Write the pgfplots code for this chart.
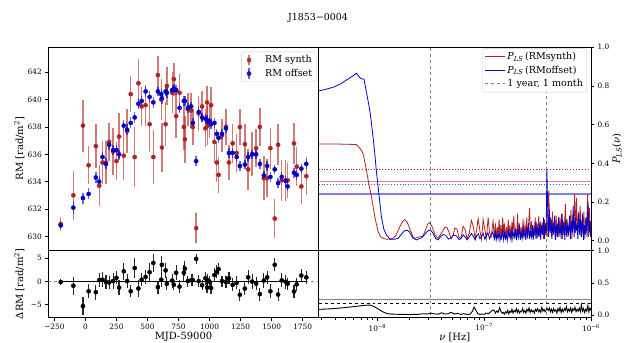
\documentclass[border=0pt]{standalone}
\usepackage{fontspec}
\setmainfont{DejaVu Serif}
\usepackage{pgfplots}
\usepackage{pgfplotstable}
\pgfplotsset{compat=1.18}
\definecolor{fb}{RGB}{178,34,34}
\definecolor{mb}{RGB}{0,0,205}

\pgfplotstableread{
x r er b eb d ed
-199 630.9 0.5 630.8 0.3 -0.1 0.6
-97 633.0 1.8 632.1 0.5 -0.9 1.9
-20 638.1 1.9 632.8 0.4 -5.3 1.9
26 635.2 1.4 633.1 0.4 -2.1 1.5
84 636.6 1.6 634.3 0.4 -2.3 1.6
111 633.7 1.5 634.0 0.4 0.3 1.5
138 635.4 1.6 635.8 0.4 0.4 1.6
165 635.4 1.6 635.3 0.4 -0.1 1.6
191 636.9 1.4 636.7 0.35 -0.2 1.4
223 636.2 1.7 636.3 0.35 0.1 1.7
250 635.5 1.4 636.3 0.35 0.8 1.4
271 637.3 1.7 636.0 0.35 -1.3 1.7
309 635.9 1.8 638.1 0.4 2.2 1.8
336 637.7 1.6 637.8 0.4 0.1 1.6
365 640.4 1.3 638.3 0.4 -2.1 1.3
397 635.8 2.2 638.7 0.4 2.9 2.2
427 641.2 1.8 639.7 0.4 -1.5 1.8
453 639.5 1.4 639.9 0.4 0.4 1.4
485 639.6 1.5 640.6 0.4 1.0 1.5
517 638.2 2.0 640.2 0.4 2.0 2.0
547 635.8 2.0 639.8 0.4 4.0 2.0
584 641.8 1.4 640.6 0.35 -1.2 1.4
611 640.0 1.5 640.4 0.4 0.4 1.5
616 636.5 1.8 640.1 0.4 3.6 1.8
646 638.2 1.6 640.6 0.35 2.4 1.6
656 641.0 1.4 640.5 0.35 -0.5 1.4
699 640.5 1.5 640.7 0.35 0.2 1.5
712 641.5 1.2 640.8 0.35 -0.7 1.2
731 638.8 1.6 640.7 0.35 1.9 1.6
758 640.5 1.4 639.4 0.35 -1.1 1.4
793 638.0 1.7 639.9 0.35 1.9 1.7
801 637.1 1.7 639.9 0.35 2.8 1.7
825 639.3 1.2 639.4 0.35 0.1 1.2
852 639.2 1.3 639.5 0.35 0.3 1.3
865 638.0 1.3 638.3 0.35 0.3 1.3
892 630.6 1.1 635.5 0.35 4.9 1.1
913 639.0 1.3 639.1 0.35 0.1 1.3
940 639.5 1.1 638.7 0.35 -0.8 1.1
966 637.9 1.4 638.6 0.35 0.7 1.4
980 639.8 1.2 638.5 0.35 -1.3 1.2
985 638.1 1.4 638.4 0.35 0.3 1.4
999 638.4 1.2 638.4 0.35 0.0 1.2
1012 639.6 1.3 638.2 0.35 -1.4 1.3
1039 636.9 1.5 638.3 0.35 1.4 1.5
1058 635.4 1.4 637.5 0.35 2.1 1.4
1073 634.5 1.3 637.2 0.35 2.7 1.3
1100 637.4 1.2 637.5 0.35 0.1 1.2
1132 638.0 1.3 637.9 0.35 -0.1 1.3
1156 635.4 1.3 636.1 0.35 0.7 1.3
1186 636.8 1.4 636.1 0.35 -0.7 1.4
1218 636.1 1.4 635.8 0.35 -0.3 1.4
1244 638.0 1.3 635.15 0.35 -2.85 1.3
1284 636.75 1.5 635.25 0.35 -1.5 1.5
1311 634.9 1.5 635.8 0.35 0.9 1.5
1343 636.0 1.6 636.0 0.35 0.0 1.6
1375 636.45 1.4 636.0 0.35 -0.45 1.4
1405 638.0 1.4 635.3 0.35 -2.7 1.4
1437 634.25 1.6 634.45 0.35 0.2 1.6
1464 634.25 1.4 635.15 0.35 0.9 1.4
1490 636.45 1.5 634.35 0.35 -2.1 1.5
1525 631.3 1.4 634.9 0.35 3.6 1.4
1552 636.7 1.5 633.9 0.35 -2.8 1.5
1581 634.1 1.5 634.35 0.35 0.25 1.5
1613 634.1 1.5 634.05 0.35 -0.05 1.5
1629 634.1 1.3 633.65 0.35 -0.45 1.3
1680 636.8 1.5 634.65 0.35 -2.15 1.5
1702 635.1 1.4 634.5 0.35 -0.6 1.4
1739 633.65 1.3 634.95 0.35 1.3 1.3
1779 634.4 1.4 635.3 0.35 0.9 1.4
}\rmdata

% periodogram, x = log10(frequency / Hz)
\pgfplotstableread{
L p
-8.55 0.500
-8.40 0.500
-8.30 0.499
-8.197 0.497
-8.16 0.475
-8.135 0.452
-8.103 0.366
-8.08 0.29
-8.056 0.228
-8.025 0.124
-7.994 0.047
-7.97 0.02
-7.947 0.012
-7.915 0.008
-7.885 0.007
-7.855 0.012
-7.829 0.025
-7.80 0.06
-7.77 0.095
-7.745 0.11
-7.72 0.095
-7.69 0.05
-7.665 0.02
-7.65 0.012
-7.625 0.018
-7.604 0.02
-7.573 0.025
-7.55 0.055
-7.53 0.085
-7.51 0.093
-7.49 0.075
-7.46 0.03
-7.432 0.012
-7.40 0.04
-7.37 0.068
-7.35 0.07
-7.33 0.045
-7.31 0.01
-7.29 0.03
-7.275 0.065
-7.255 0.06
-7.235 0.015
-7.215 0.02
-7.198 0.075
-7.18 0.06
-7.16 0.01
-7.14 0.04
-7.12 0.105
-7.10 0.07
-7.085 0.008
-7.07 0.06
-7.057 0.115
-7.04 0.05
-7.025 0.005
-7.01 0.11
-6.995 0.06
-6.98 0.01
-6.963 0.12
-6.95 0.04
-6.935 0.02
-6.917 0.10
-6.905 0.02
-6.895 0.09
-6.887 0.01
-6.878 0.07
-6.870 0.02
-6.861 0.11
-6.852 0.03
-6.844 0.08
-6.836 0.005
-6.827 0.12
-6.818 0.04
-6.810 0.09
-6.801 0.01
-6.792 0.07
-6.784 0.03
-6.775 0.11
-6.766 0.02
-6.758 0.08
-6.749 0.005
-6.740 0.10
-6.732 0.04
-6.723 0.13
-6.714 0.01
-6.706 0.06
-6.697 0.02
-6.688 0.14
-6.680 0.03
-6.671 0.09
-6.662 0.01
-6.654 0.07
-6.645 0.03
-6.636 0.11
-6.628 0.02
-6.619 0.08
-6.610 0.04
-6.601 0.12
-6.593 0.01
-6.584 0.09
-6.575 0.17
-6.567 0.03
-6.558 0.10
-6.549 0.02
-6.541 0.07
-6.532 0.04
-6.523 0.12
-6.515 0.01
-6.506 0.09
-6.497 0.03
-6.489 0.13
-6.480 0.02
-6.471 0.10
-6.463 0.05
-6.454 0.08
-6.445 0.01
-6.437 0.11
-6.428 0.03
-6.420 0.09
-6.411 0.02
-6.403 0.14
-6.395 0.26
-6.387 0.05
-6.378 0.12
-6.370 0.02
-6.361 0.15
-6.352 0.04
-6.344 0.10
-6.335 0.01
-6.327 0.13
-6.318 0.05
-6.309 0.09
-6.301 0.02
-6.292 0.12
-6.283 0.04
-6.275 0.14
-6.266 0.01
-6.257 0.10
-6.249 0.06
-6.240 0.19
-6.231 0.03
-6.223 0.11
-6.214 0.02
-6.205 0.09
-6.197 0.05
-6.188 0.16
-6.179 0.01
-6.171 0.12
-6.162 0.06
-6.153 0.24
-6.145 0.04
-6.136 0.22
-6.127 0.03
-6.119 0.13
-6.110 0.07
-6.101 0.18
-6.093 0.02
-6.084 0.10
-6.075 0.04
-6.067 0.15
-6.058 0.01
-6.049 0.12
-6.041 0.05
-6.032 0.24
-6.023 0.02
-6.015 0.17
-6.006 0.03
-6.000 0.10
}\plsred

\pgfplotstableread{
L p
-8.55 0.774
-8.47 0.785
-8.40 0.796
-8.34 0.812
-8.29 0.831
-8.24 0.848
-8.197 0.866
-8.16 0.84
-8.126 0.834
-8.10 0.76
-8.08 0.70
-8.063 0.641
-8.04 0.53
-8.025 0.452
-8.01 0.36
-7.994 0.28
-7.963 0.124
-7.94 0.06
-7.916 0.03
-7.89 0.012
-7.869 0.007
-7.84 0.008
-7.807 0.012
-7.78 0.03
-7.75 0.05
-7.723 0.055
-7.70 0.045
-7.67 0.015
-7.635 0.004
-7.61 0.01
-7.588 0.015
-7.56 0.03
-7.53 0.05
-7.503 0.055
-7.48 0.04
-7.455 0.012
-7.432 0.004
-7.41 0.02
-7.385 0.032
-7.36 0.028
-7.335 0.008
-7.31 0.015
-7.285 0.03
-7.26 0.025
-7.235 0.005
-7.215 0.012
-7.197 0.03
-7.18 0.02
-7.16 0.004
-7.14 0.02
-7.119 0.038
-7.10 0.02
-7.085 0.005
-7.07 0.025
-7.055 0.035
-7.04 0.01
-7.025 0.02
-7.01 0.038
-6.995 0.008
-6.98 0.025
-6.965 0.04
-6.95 0.01
-6.935 0.03
-6.92 0.045
-6.905 0.008
-6.895 0.04
-6.887 0.005
-6.878 0.03
-6.870 0.01
-6.861 0.05
-6.852 0.002
-6.844 0.03
-6.836 0.015
-6.827 0.06
-6.818 0.005
-6.810 0.04
-6.801 0.01
-6.792 0.03
-6.784 0.002
-6.775 0.05
-6.766 0.02
-6.758 0.04
-6.749 0.005
-6.740 0.07
-6.732 0.01
-6.723 0.04
-6.714 0.02
-6.706 0.06
-6.697 0.003
-6.688 0.05
-6.680 0.02
-6.671 0.08
-6.662 0.005
-6.654 0.04
-6.645 0.01
-6.636 0.06
-6.628 0.02
-6.619 0.05
-6.610 0.003
-6.601 0.07
-6.593 0.02
-6.584 0.09
-6.575 0.01
-6.567 0.05
-6.558 0.02
-6.549 0.08
-6.541 0.005
-6.532 0.06
-6.523 0.03
-6.515 0.10
-6.506 0.01
-6.497 0.07
-6.489 0.02
-6.480 0.09
-6.471 0.005
-6.463 0.08
-6.454 0.03
-6.445 0.12
-6.437 0.01
-6.428 0.09
-6.420 0.04
-6.413 0.365
-6.405 0.15
-6.397 0.02
-6.390 0.16
-6.382 0.04
-6.374 0.11
-6.366 0.01
-6.357 0.09
-6.349 0.03
-6.340 0.13
-6.331 0.005
-6.323 0.08
-6.314 0.02
-6.305 0.12
-6.297 0.04
-6.288 0.07
-6.279 0.01
-6.271 0.14
-6.262 0.03
-6.253 0.09
-6.245 0.005
-6.236 0.11
-6.227 0.02
-6.219 0.08
-6.210 0.03
-6.201 0.13
-6.193 0.01
-6.184 0.10
-6.175 0.04
-6.167 0.18
-6.158 0.02
-6.149 0.12
-6.141 0.05
-6.132 0.09
-6.123 0.01
-6.115 0.15
-6.106 0.03
-6.097 0.11
-6.089 0.02
-6.080 0.14
-6.071 0.005
-6.063 0.08
-6.054 0.03
-6.045 0.12
-6.037 0.02
-6.028 0.20
-6.019 0.04
-6.011 0.10
-6.003 0.02
}\plsblue

\pgfplotstableread{
L p
-8.55 0.088
-8.45 0.095
-8.35 0.108
-8.25 0.125
-8.15 0.145
-8.10 0.152
-8.07 0.155
-8.03 0.13
-7.99 0.09
-7.95 0.05
-7.916 0.026
-7.88 0.015
-7.80 0.01
-7.70 0.008
-7.62 0.01
-7.57 0.02
-7.53 0.015
-7.50 0.03
-7.47 0.018
-7.43 0.012
-7.40 0.035
-7.37 0.015
-7.34 0.02
-7.31 0.04
-7.28 0.015
-7.25 0.025
-7.22 0.01
-7.19 0.02
-7.16 0.008
-7.13 0.015
-7.11 0.06
-7.095 0.125
-7.08 0.08
-7.06 0.02
-7.04 0.008
-7.02 0.015
-7.00 0.01
-6.98 0.03
-6.96 0.02
-6.94 0.05
-6.925 0.07
-6.91 0.08
-6.895 0.03
-6.88 0.065
-6.87 0.04
-6.855 0.115
-6.845 0.06
-6.83 0.025
-6.82 0.04
-6.81 0.015
-6.80 0.05
-6.79 0.03
-6.78 0.07
-6.77 0.02
-6.76 0.06
-6.75 0.04
-6.74 0.09
-6.73 0.03
-6.72 0.07
-6.71 0.05
-6.70 0.10
-6.69 0.04
-6.68 0.08
-6.67 0.03
-6.66 0.06
-6.65 0.05
-6.64 0.10
-6.63 0.04
-6.62 0.07
-6.61 0.03
-6.60 0.09
-6.59 0.06
-6.58 0.11
-6.57 0.04
-6.56 0.08
-6.55 0.05
-6.54 0.07
-6.53 0.03
-6.52 0.09
-6.51 0.06
-6.50 0.10
-6.49 0.05
-6.48 0.08
-6.47 0.04
-6.46 0.12
-6.45 0.06
-6.44 0.09
-6.43 0.05
-6.42 0.08
-6.41 0.10
-6.40 0.07
-6.39 0.11
-6.38 0.05
-6.37 0.09
-6.36 0.04
-6.35 0.10
-6.34 0.06
-6.33 0.08
-6.32 0.03
-6.31 0.10
-6.30 0.06
-6.29 0.12
-6.28 0.04
-6.27 0.09
-6.26 0.05
-6.25 0.10
-6.24 0.07
-6.23 0.13
-6.22 0.05
-6.21 0.09
-6.20 0.06
-6.19 0.11
-6.18 0.04
-6.17 0.10
-6.16 0.07
-6.15 0.12
-6.14 0.05
-6.13 0.09
-6.12 0.06
-6.11 0.11
-6.10 0.05
-6.09 0.16
-6.08 0.06
-6.07 0.10
-6.06 0.04
-6.05 0.09
-6.04 0.06
-6.03 0.15
-6.02 0.05
-6.01 0.11
-6.00 0.07
}\plsdiff

\pgfplotsset{
  base/.style={
    scale only axis,
    tick align=outside,
    major tick length=3bp,
    minor tick length=1.8bp,
    every tick/.style={black, line width=0.6bp},
    axis line style={line width=0.7bp},
    tick label style={font=\fontsize{7.4}{8.5}\selectfont},
    label style={font=\fontsize{9.8}{11}\selectfont},
    /pgf/number format/assume math mode=true,
    clip=true,
  },
  leftlabel/.style={every axis y label/.style={at={(axis description cs:0,0.5)}, xshift=-29bp, rotate=90, anchor=center}},
  rightlabel/.style={every axis y label/.style={at={(axis description cs:1,0.5)}, xshift=26bp, rotate=90, anchor=center}},
  botlabel/.style={every axis x label/.style={at={(axis description cs:0.5,0)}, yshift=-19.5bp, anchor=center}},
  lgd/.style={legend style={font=\fontsize{9.6}{11}\selectfont, draw=black!20, rounded corners=2bp,
    fill=white, fill opacity=0.8, text opacity=1, inner sep=1.8bp, row sep=0.8bp,
    at={(1,1)}, anchor=north east}, legend cell align=left},
}

\begin{document}
\begin{tikzpicture}
\useasboundingbox (0,0) rectangle (635bp,343bp);

\node[font=\fontsize{9.5}{11}\selectfont] at (318bp,325bp) {J1853−0004};

% ---------- left top ----------
\begin{axis}[base, leftlabel, lgd,
  at={(48.3bp,93bp)}, anchor=south west, width=270.4bp, height=202.7bp,
  xmin=-299, xmax=1879, ymin=629.0, ymax=643.83,
  xtick=\empty, ytick={630,632,...,642}, ytick pos=left,
  ylabel={RM [rad/m\textsuperscript{2}]},
  legend style={xshift=-2.5bp, yshift=-4.4bp}]
\addplot[only marks, mark=*, mark size=2.1bp, color=fb,
  legend image code/.code={\path[draw=none, fill=none] (0cm,0cm) rectangle (0.7cm,0.01cm); \draw[fb, opacity=0.6, line width=1.4bp] (0.2cm,-0.19cm) -- (0.2cm,0.19cm); \fill[fb] (0.2cm,0cm) circle (2.1bp);},
  error bars/.cd, y dir=both, y explicit, error mark=none,
  error bar style={line width=1.4bp, color=fb, opacity=0.6}]
  table[x=x, y=r, y error=er] {\rmdata};
\addlegendentry{RM synth}
\addplot[only marks, mark=*, mark size=2.1bp, color=mb,
  legend image code/.code={\path[draw=none, fill=none] (0cm,0cm) rectangle (0.7cm,0.01cm); \draw[mb, opacity=0.6, line width=1.4bp] (0.2cm,-0.19cm) -- (0.2cm,0.19cm); \fill[mb] (0.2cm,0cm) circle (2.1bp);},
  error bars/.cd, y dir=both, y explicit, error mark=none,
  error bar style={line width=1.4bp, color=mb, opacity=0.6}]
  table[x=x, y=b, y error=eb] {\rmdata};
\addlegendentry{RM offset}
\end{axis}

% ---------- left bottom ----------
\begin{axis}[base, leftlabel, botlabel,
  at={(48.3bp,25.3bp)}, anchor=south west, width=270.4bp, height=67.7bp,
  xmin=-299, xmax=1879, ymin=-7.8, ymax=6.8,
  xtick={-250,0,250,500,750,1000,1250,1500,1750},
  xticklabels={−250,0,250,500,750,1000,1250,1500,1750},
  xtick pos=bottom,
  ytick={-5,0,5}, yticklabels={−5,0,5}, ytick pos=left,
  ylabel={ΔRM [rad/m\textsuperscript{2}]},
  xlabel={MJD-59000}]
\addplot[gray, dashed, line width=0.8bp] coordinates {(-299,0) (1879,0)};
\addplot[black, line width=0.9bp] coordinates {(-199,0) (1779,0)};
\addplot[only marks, mark=*, mark size=2.1bp, color=black,
  error bars/.cd, y dir=both, y explicit, error mark=none,
  error bar style={line width=1.2bp, color=black, opacity=0.85}]
  table[x=x, y=d, y error=ed] {\rmdata};
\end{axis}

% ---------- right top ----------
\begin{axis}[base, rightlabel, lgd,
  at={(318.7bp,93bp)}, anchor=south west, width=272.3bp, height=202.7bp,
  xmin=-8.55, xmax=-6.0, ymin=-0.048, ymax=1.0,
  xtick=\empty, ytick={0,0.2,0.4,0.6,0.8,1.0},
  ytick pos=right, yticklabel pos=right,
  yticklabel style={/pgf/number format/.cd, fixed, fixed zerofill, precision=1},
  ylabel={\textit{P}\textsubscript{\textit{LS}}(\textit{ν})},
  legend style={xshift=-4bp, yshift=-1.2bp},
  legend image code/.code={\draw[#1] (0cm,0cm) -- (0.7cm,0cm);}]
\addplot[gray, dashed, line width=1bp, forget plot] coordinates {(-7.499,-0.1) (-7.499,1.1)};
\addplot[gray, dashed, line width=1bp, forget plot] coordinates {(-6.4136,-0.1) (-6.4136,1.1)};
\addplot[fb, dotted, line width=0.9bp, forget plot] coordinates {(-8.55,0.369) (-6.0,0.369)};
\addplot[fb, opacity=0.55, line width=1.3bp, forget plot] coordinates {(-8.55,0.305) (-6.0,0.305)};
\addplot[mb, dotted, line width=0.9bp, opacity=0.7, forget plot] coordinates {(-8.55,0.293) (-6.0,0.293)};
\addplot[mb, opacity=0.5, line width=1.5bp, forget plot] coordinates {(-8.55,0.241) (-6.0,0.241)};
\addplot[fb, line width=0.8bp] table[x=L, y=p] {\plsred};
\addlegendentry{\textit{P}\textsubscript{\textit{LS}}\,(RMsynth)}
\addplot[mb, line width=0.8bp] table[x=L, y=p] {\plsblue};
\addlegendentry{\textit{P}\textsubscript{\textit{LS}}\,(RMoffset)}
\addlegendimage{gray, dashed, line width=1bp}
\addlegendentry{1 year, 1 month}
\end{axis}

% ---------- right bottom ----------
\begin{axis}[base, botlabel,
  at={(318.7bp,25.3bp)}, anchor=south west, width=272.3bp, height=67.7bp,
  xmin=-8.55, xmax=-6.0, ymin=-0.042, ymax=1.011,
  xtick={-8,-7,-6},
  xticklabels={10\textsuperscript{−8},10\textsuperscript{−7},10\textsuperscript{−6}},
  minor xtick={-8.52288,-8.39794,-8.30103,-8.22185,-8.15490,-8.09691,-8.04576,
    -7.69897,-7.52288,-7.39794,-7.30103,-7.22185,-7.15490,-7.09691,-7.04576,
    -6.69897,-6.52288,-6.39794,-6.30103,-6.22185,-6.15490,-6.09691,-6.04576},
  xtick pos=bottom,
  ytick={0,0.5,1.0}, ytick pos=right, yticklabel pos=right,
  yticklabel style={/pgf/number format/.cd, fixed, fixed zerofill, precision=1},
  xlabel={\textit{ν} [Hz]}]
\addplot[gray, dashed, line width=1bp] coordinates {(-7.499,-0.1) (-7.499,1.1)};
\addplot[gray, dashed, line width=1bp] coordinates {(-6.4136,-0.1) (-6.4136,1.1)};
\addplot[gray, line width=1.2bp] coordinates {(-8.55,0.244) (-6.0,0.244)};
\addplot[black, dashed, line width=0.9bp] coordinates {(-8.55,0.187) (-6.0,0.187)};
\addplot[black, line width=0.9bp] table[x=L, y=p] {\plsdiff};
\end{axis}
\end{tikzpicture}
\end{document}
